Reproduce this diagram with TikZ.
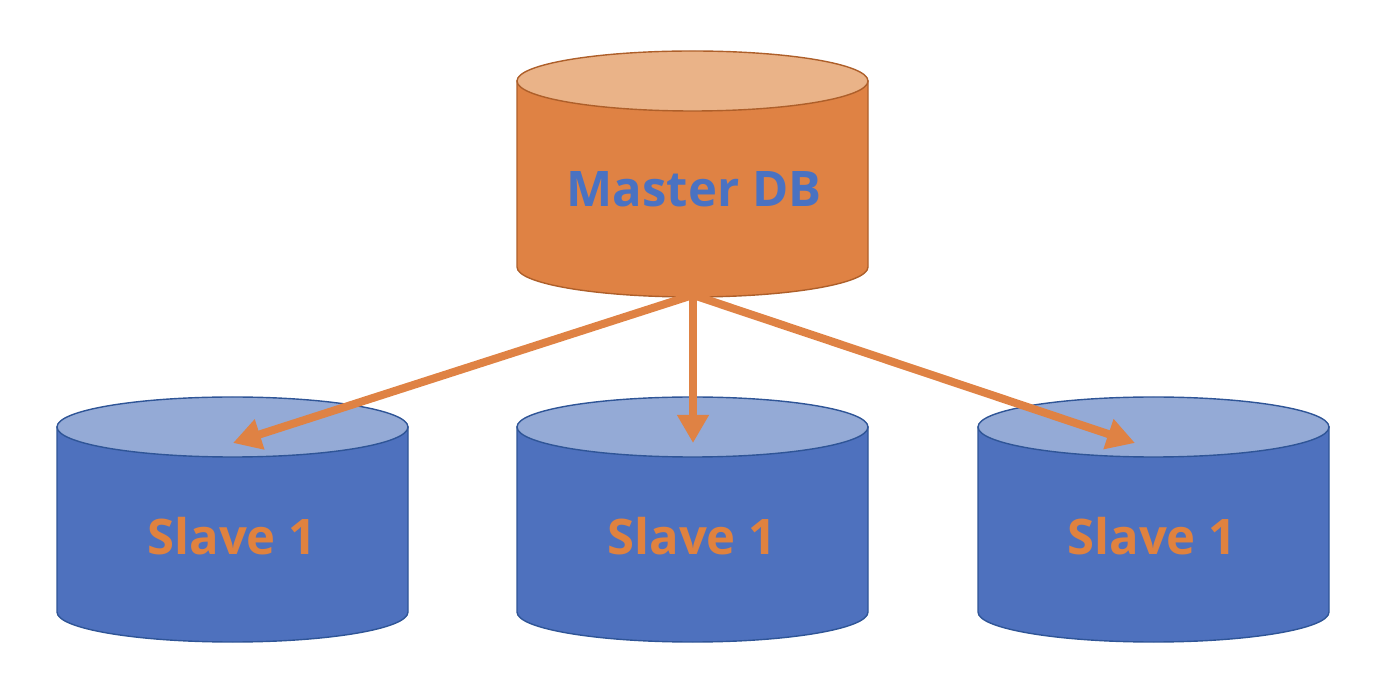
\documentclass[tikz,border=0pt]{standalone}
\usepackage{fontspec}
\setmainfont{Open Sans}
\usetikzlibrary{arrows.meta}
\definecolor{orbody}{HTML}{DF8244}
\definecolor{ortop}{HTML}{EAB388}
\definecolor{orline}{HTML}{AE5F2A}
\definecolor{blbody}{HTML}{4E71BE}
\definecolor{bltop}{HTML}{94AAD6}
\definecolor{blline}{HTML}{2F5597}
\definecolor{bltext}{HTML}{4A72C2}
\definecolor{ortext}{HTML}{E0823F}
\newcommand{\dbcyl}[5]{% cx, Ytop, Ybot, prefix, ry
  \path[fill=#4body, draw=#4line, line width=1.4pt]
    (#1-175.5,#2) -- (#1-175.5,#3)
    arc[start angle=180, end angle=360, x radius=175.5pt, y radius=#5pt]
    -- (#1+175.5,#2) -- cycle;
  \path[fill=#4top, draw=#4line, line width=1.4pt]
    (#1,#2) ellipse[x radius=175.5pt, y radius=#5pt];
}
\tikzset{
  lbl/.style={font=\bfseries\fontsize{49}{58}\selectfont, anchor=base, inner sep=0pt},
  flow/.style={draw=orbody, line width=8pt, -{Triangle[length=28pt,width=30pt]}}
}
\begin{document}
\begin{tikzpicture}[x=1pt,y=1pt]
\useasboundingbox (0,0) rectangle (1388,696);
\dbcyl{692.5}{615}{429}{or}{30}
\dbcyl{232.5}{269}{84}{bl}{30}
\dbcyl{692.5}{269}{84}{bl}{30}
\dbcyl{1153.5}{269}{84}{bl}{30}
\node[lbl, text=bltext] (master) at (694,489) {Master DB};
\node[lbl, text=ortext] (slave1) at (232,142) {Slave 1};
\node[lbl, text=ortext] (slave2) at (692,142) {Slave 1};
\node[lbl, text=ortext] (slave3) at (1152,142) {Slave 1};
\coordinate (msrc) at (693,401);
\coordinate (t1) at (233,253);
\coordinate (t2) at (693,253);
\coordinate (t3) at (1135,253);
\draw[flow] (msrc) -- (t1);
\draw[flow] (msrc) -- (t2);
\draw[flow] (msrc) -- (t3);
\end{tikzpicture}
\end{document}
